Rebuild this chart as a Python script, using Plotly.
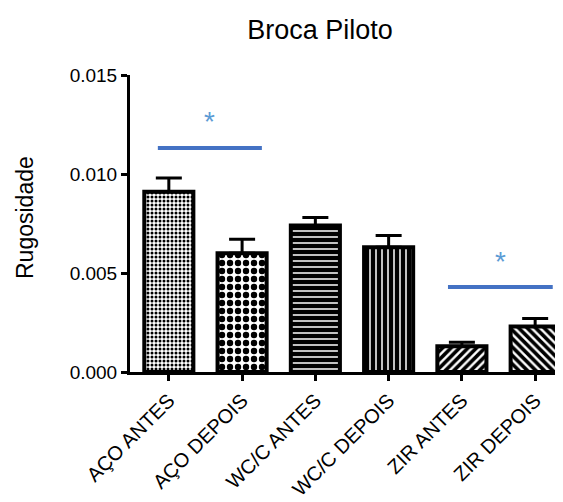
import plotly.graph_objects as go

categories = ["AÇO ANTES", "AÇO DEPOIS", "WC/C ANTES", "WC/C DEPOIS", "ZIR ANTES", "ZIR DEPOIS"]
values = [0.0091, 0.0060, 0.0074, 0.0063, 0.0013, 0.0023]
errors = [0.0007, 0.0007, 0.0004, 0.0006, 0.0002, 0.0004]
patterns = [".", ".", "-", "|", "/", "\\"]
pattern_sizes = [4, 8, 6, 6, 6, 6]
pattern_solidity = [0.45, 0.5, 0.75, 0.75, 0.6, 0.6]

# significance markers (x start index, x end index, y level, star y)
sig_x0 = [-0.15, 3.81]
sig_x1 = [1.27, 5.24]
sig_y = [0.01131, 0.00429]
star_y = [0.01263, 0.00556]

x = list(range(len(categories)))

# page body has an 8px default margin; compensate so the chart lands where intended
OFF = 8
W, H = 563 - OFF, 502 - OFF

fig = go.Figure()
fig.add_trace(go.Bar(
    x=x, y=values, width=0.67,
    marker=dict(
        color="white",
        line=dict(color="black", width=4),
        pattern=dict(shape=patterns, size=pattern_sizes, solidity=pattern_solidity,
                     fgcolor="black", bgcolor="white", fgopacity=1, fillmode="overlay"),
    ),
    error_y=dict(type="data", symmetric=False, array=errors, arrayminus=[0]*len(errors),
                 color="black", thickness=3, width=13),
    showlegend=False,
))

for a, b, yv, sy in zip(sig_x0, sig_x1, sig_y, star_y):
    fig.add_shape(type="line", x0=a, x1=b, y0=yv, y1=yv, xref="x", yref="y",
                  line=dict(color="#4472C4", width=4))
    fig.add_annotation(x=(a + b) / 2, y=sy, text="*", showarrow=False,
                       font=dict(family="Liberation Sans, Arial", size=28, color="#5B9BD5"),
                       xref="x", yref="y", yanchor="middle")

# y-axis title as rotated annotation
fig.add_annotation(text="Rugosidade", textangle=-90, showarrow=False,
                   xref="paper", yref="paper", xanchor="center", yanchor="middle",
                   x=(25 - 130) / (W - 122), y=(372 - 218) / (372 - 75),
                   font=dict(family="Liberation Sans, Arial", size=23, color="black"))

fig.update_layout(
    width=W, height=H,
    margin=dict(l=130 - OFF, r=0, t=75 - OFF, b=130, autoexpand=False),
    plot_bgcolor="white", paper_bgcolor="white",
    font=dict(family="Liberation Sans, Arial", size=18, color="black"),
    title=dict(text="Broca Piloto", x=(320 - OFF) / W, xanchor="center",
               y=1 - (30 - OFF) / H, yanchor="middle",
               font=dict(size=27, color="black")),
    xaxis=dict(
        range=[-0.53, 5.38], tickmode="array", tickvals=x, ticktext=categories,
        tickangle=-45, showline=True, linecolor="black", linewidth=3,
        ticks="outside", ticklen=6, tickwidth=3, tickcolor="black",
        showgrid=False, zeroline=False, tickfont=dict(size=20), automargin=False,
    ),
    yaxis=dict(
        range=[0, 0.015], tickvals=[0, 0.005, 0.010, 0.015],
        ticktext=["0.000", "0.005", "0.010", "0.015"],
        showline=True, linecolor="black", linewidth=3,
        ticks="outside", ticklen=6, tickwidth=3, tickcolor="black",
        showgrid=False, zeroline=False, tickfont=dict(size=19), automargin=False,
    ),
)

fig.write_html("out.html")
